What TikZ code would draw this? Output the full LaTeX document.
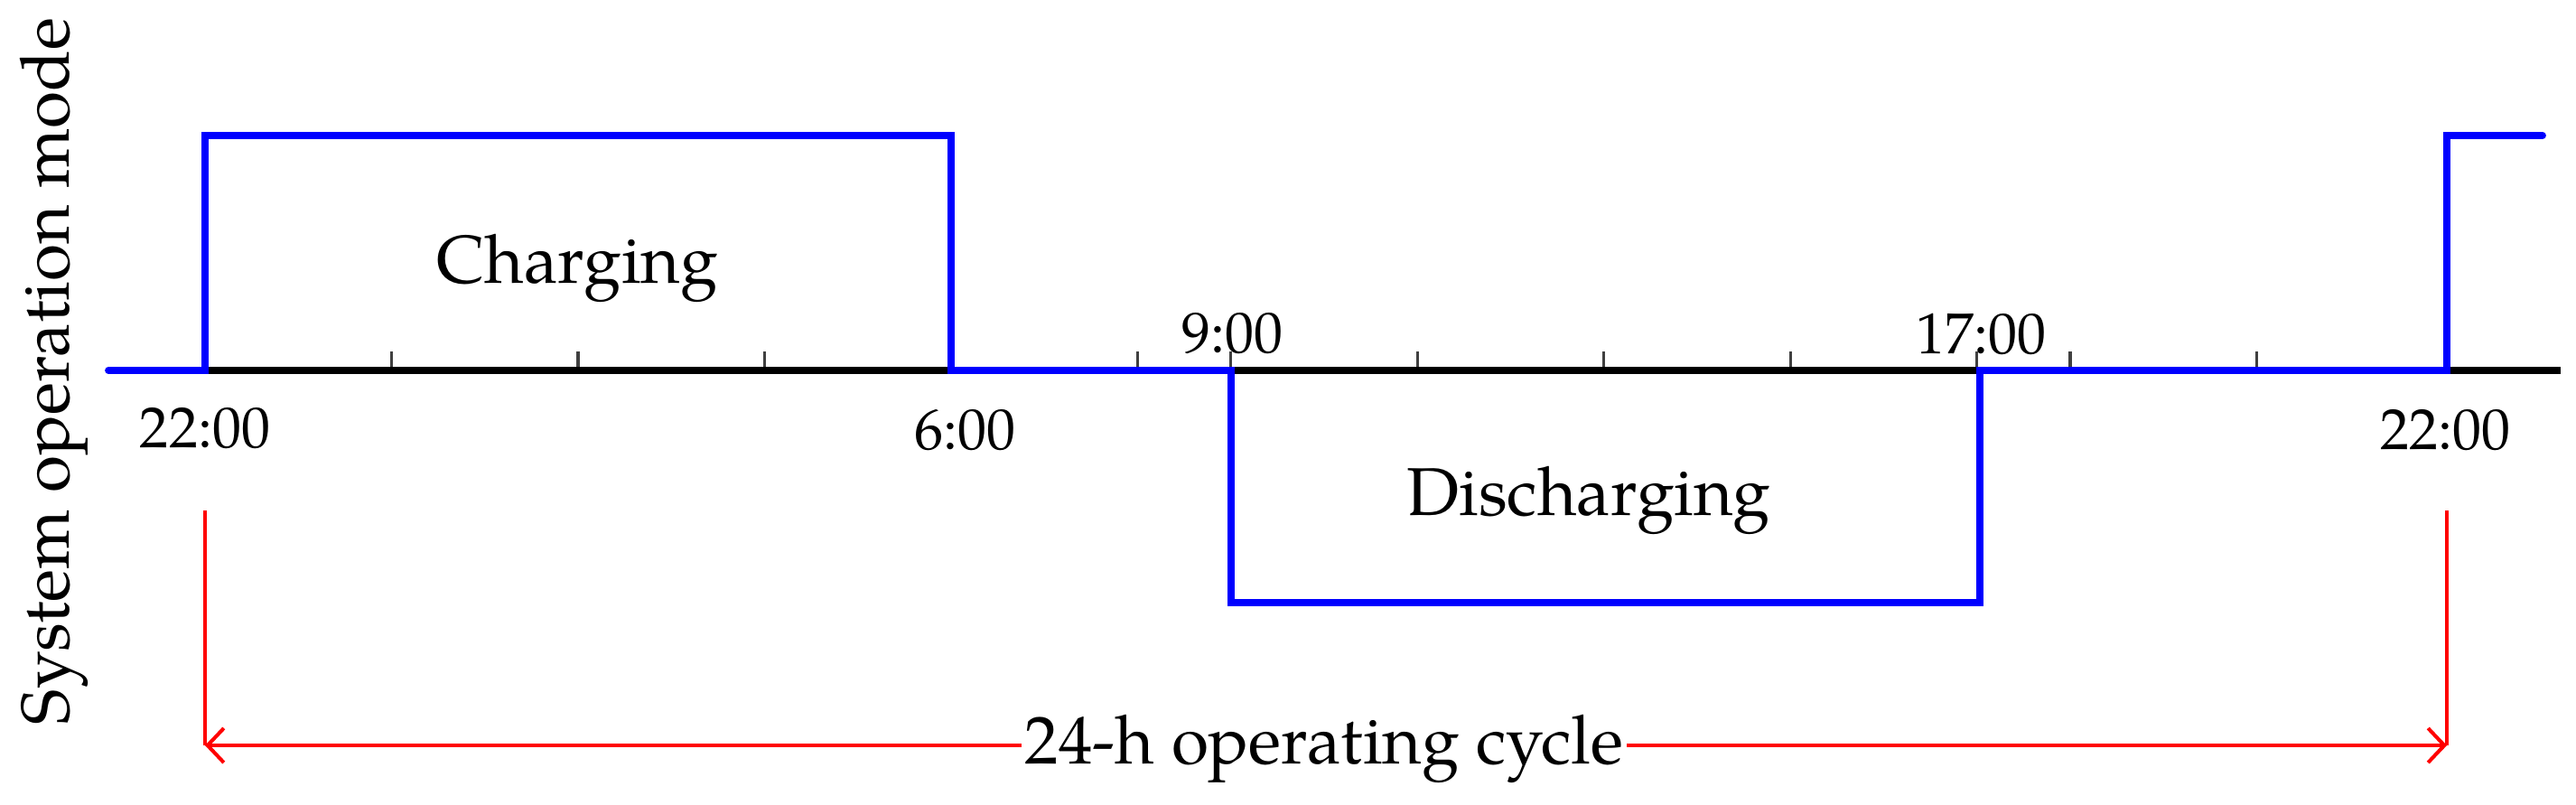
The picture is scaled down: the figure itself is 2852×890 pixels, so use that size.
\documentclass[tikz,border=0pt]{standalone}
\usepackage{fontspec}
\setmainfont{texgyrepagella-regular.otf}
\usetikzlibrary{arrows.meta}
\tikzset{
  axisline/.style={line width=2.4pt, black},
  modeline/.style={line width=2.2pt, blue, line cap=round, line join=miter},
  tickmark/.style={line width=0.9pt, black!75},
  cycleline/.style={line width=1.15pt, red},
  cyclearrow/.style={cycleline, {Straight Barb[length=0.18cm,width=0.38cm,line width=1.15pt]}-{Straight Barb[length=0.18cm,width=0.38cm,line width=1.15pt]}},
  bigtext/.style={font=\fontsize{21.3}{25}\selectfont, inner sep=0pt, anchor=base},
  timetext/.style={font=\fontsize{18.2}{22}\selectfont, inner sep=0pt, anchor=base}
}
\begin{document}
\begin{tikzpicture}[x=0.01cm,y=-0.01cm]
\useasboundingbox (0,0) rectangle (2852,890);
% coordinates
\coordinate (a0) at (120,410);
\coordinate (aend) at (2835,410);
\coordinate (p1) at (227,410);
\coordinate (p2) at (227,150);
\coordinate (p3) at (1053,150);
\coordinate (p4) at (1053,410);
\coordinate (p5) at (1363,410);
\coordinate (p6) at (1363,667);
\coordinate (p7) at (2192,667);
\coordinate (p8) at (2192,410);
\coordinate (p9) at (2709,410);
\coordinate (p10) at (2709,150);
\coordinate (p11) at (2815,150);
% ticks
\foreach \h in {2,4,6,10,11,13,15,17,19,20,22}{
  \draw[tickmark] ({227+103.25*\h},410) -- ({227+103.25*\h},389);
}
% axis
\draw[axisline] (a0) -- (aend);
% mode line
\draw[modeline] (a0) -- (p1) -- (p2) -- (p3) -- (p4) -- (p5) -- (p6) -- (p7) -- (p8) -- (p9) -- (p10) -- (p11);
% labels
\node[bigtext] (charging) at (639,313) {Charging};
\node[bigtext] (discharging) at (1759,570) {Discharging};
\node[timetext] (t22a) at (227,495) {22:00};
\node[timetext] (t6) at (1068,497) {6:00};
\node[timetext] (t9) at (1364,390) {9:00};
\node[timetext] (t17) at (2193,391) {17:00};
\node[timetext] (t22b) at (2707,497) {22:00};
\node[bigtext, rotate=90] (ylab) at (77,411) {System operation mode};
% cycle arrow
\coordinate (r1top) at (227,565);
\coordinate (r1bot) at (227,825);
\coordinate (r2top) at (2709,565);
\coordinate (r2bot) at (2709,825);
\draw[cycleline] (r1top) -- (r1bot);
\draw[cycleline] (r2top) -- (r2bot);
\draw[cyclearrow] (r1bot) -- (r2bot);
\node[bigtext, fill=white, inner xsep=1pt, inner ysep=2pt] (cyc) at (1466,845) {24-h operating cycle};
\end{tikzpicture}
\end{document}
